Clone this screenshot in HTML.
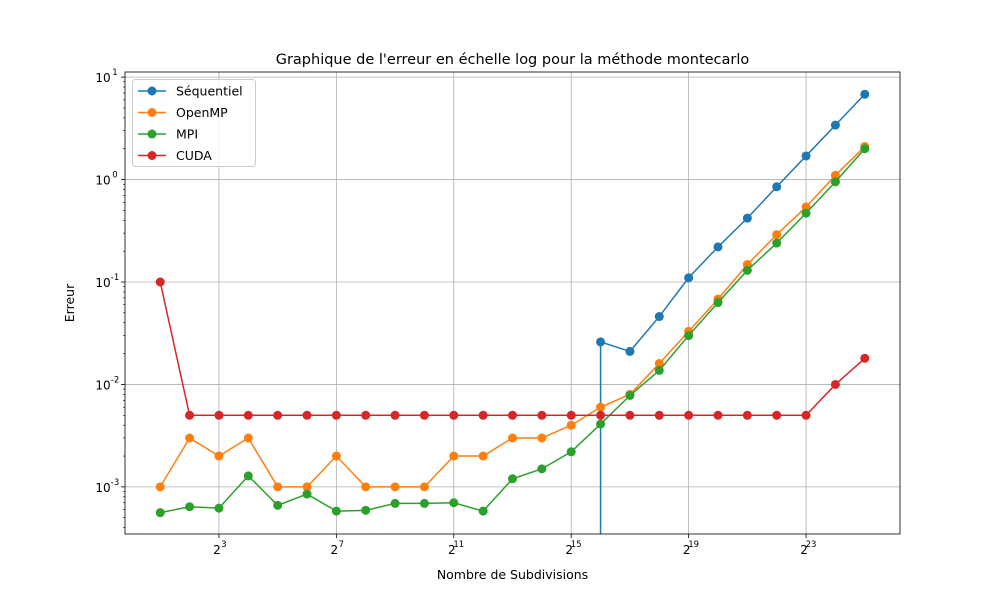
<!DOCTYPE html>
<html><head><meta charset="utf-8"><style>
body{margin:0;background:#fff;font-family:"Liberation Sans","DejaVu Sans",sans-serif}
</style></head><body>
<svg id="chart" width="1000" height="600" xmlns="http://www.w3.org/2000/svg" font-family="DejaVu Sans, Liberation Sans, sans-serif"></svg>
<script>
const exponents=[1,2,3,4,5,6,7,8,9,10,11,12,13,14,15,16,17,18,19,20,21,22,23,24,25];
const seqValues=[0,0,0,0,0,0,0,0,0,0,0,0,0,0,0,0.026,0.021,0.046,0.11,0.22,0.42,0.85,1.7,3.4,6.8];
const ompValues=[0.001,0.003,0.002,0.003,0.001,0.001,0.002,0.001,0.001,0.001,0.002,0.002,0.003,0.003,0.004,0.006,0.008,0.016,0.033,0.068,0.148,0.29,0.54,1.1,2.1];
const mpiValues=[0.00056,0.00064,0.00062,0.00128,0.00066,0.00085,0.00058,0.00059,0.00069,0.00069,0.0007,0.00058,0.0012,0.0015,0.0022,0.0041,0.0078,0.0137,0.03,0.063,0.13,0.24,0.47,0.95,2.0];
const cudaValues=[0.1,0.005,0.005,0.005,0.005,0.005,0.005,0.005,0.005,0.005,0.005,0.005,0.005,0.005,0.005,0.005,0.005,0.005,0.005,0.005,0.005,0.005,0.005,0.01,0.018];
const xTickExps=[3,7,11,15,19,23];
const yTickExps=[-3,-2,-1,0,1];
const seriesNames=["Séquentiel","OpenMP","MPI","CUDA"];
const seriesColors=["#1f77b4","#ff7f0e","#2ca02c","#d62728"];

const L=125,R=900,T=72,B=534;
const xMin=-0.2,xMax=26.2, yMin=-3.46,yMax=1.05;
const sx=e=>L+(e-xMin)/(xMax-xMin)*(R-L);
const sy=v=>B-(Math.log10(v)-yMin)/(yMax-yMin)*(B-T);
const svg=document.getElementById('chart');
const NS="http://www.w3.org/2000/svg";
function mk(tag,attrs,parent){const el=document.createElementNS(NS,tag);for(const k in attrs)el.setAttribute(k,attrs[k]);(parent||svg).appendChild(el);return el;}

const grid=mk('g',{});


xTickExps.forEach(e=>{mk('line',{x1:sx(e),x2:sx(e),y1:T,y2:B,stroke:'#b0b0b0','stroke-width':0.8},grid);});
yTickExps.forEach(e=>{const y=sy(Math.pow(10,e));mk('line',{x1:L,x2:R,y1:y,y2:y,stroke:'#b0b0b0','stroke-width':0.8},grid);});

const minor=mk('g',{});


for(let d=-4;d<=1;d++)for(let m=2;m<=9;m++){const v=m*Math.pow(10,d);const lv=Math.log10(v);if(lv<yMin||lv>yMax)continue;const y=sy(v);mk('line',{x1:L-2,x2:L,y1:y,y2:y,stroke:'#000','stroke-width':0.6},minor);}

const xt=mk('g',{});


xTickExps.forEach(e=>{const x=sx(e);mk('line',{x1:x,x2:x,y1:B,y2:B+4,stroke:'#000','stroke-width':0.8},xt);
 const t=mk('text',{x:x-2,y:B+20,'font-size':12,'text-anchor':'middle'},xt);t.textContent='2';
 const s=mk('text',{x:x+5,y:B+13,'font-size':8.5,'text-anchor':'middle'},xt);s.textContent=String(e);});
const yt=mk('g',{});


yTickExps.forEach(e=>{const y=sy(Math.pow(10,e));mk('line',{x1:L-4,x2:L,y1:y,y2:y,stroke:'#000','stroke-width':0.8},yt);
 const t=mk('text',{x:L-22,y:y+5,'font-size':12,'text-anchor':'middle'},yt);t.textContent='10';
 const s=mk('text',{x:L-10,y:y-2,'font-size':8.5,'text-anchor':'middle'},yt);s.textContent=String(e);});

const allData=[seqValues,ompValues,mpiValues,cudaValues];
const clip=mk('clipPath',{id:'pc'});mk('rect',{x:L,y:T,width:R-L,height:B-T},clip);
allData.forEach((vals,i)=>{
 const g=mk('g',{'clip-path':'url(#pc)'});
 
 
 let d='';let started=false;
 vals.forEach((v,j)=>{const x=sx(exponents[j]);
  if(v>0){const y=sy(v);
   if(!started){ if(j>0){d+='M'+x+','+(B+10)+' L'+x+','+y+' ';} else d+='M'+x+','+y+' '; started=true;}
   else d+='L'+x+','+y+' ';}
 });
 mk('path',{d:d,fill:'none',stroke:seriesColors[i],'stroke-width':1.5},g);
 vals.forEach((v,j)=>{if(v>0){const c=mk('circle',{cx:sx(exponents[j]),cy:sy(v),r:4.5,fill:seriesColors[i]},g);
  
  }});
});

const fr=mk('rect',{x:L,y:T,width:R-L,height:B-T,fill:'none',stroke:'#000','stroke-width':0.8});



const title=mk('text',{x:(L+R)/2,y:64,'font-size':14.5,'text-anchor':'middle'});title.textContent="Graphique de l'erreur en échelle log pour la méthode montecarlo";


const xl=mk('text',{x:(L+R)/2,y:579,'font-size':12.5,'text-anchor':'middle'});xl.textContent="Nombre de Subdivisions";


const yl=mk('text',{x:74,y:(T+B)/2,'font-size':12.5,'text-anchor':'middle',transform:'rotate(-90 74 '+((T+B)/2)+')'});yl.textContent="Erreur";



const lg=mk('g',{});


mk('rect',{x:132.5,y:79.5,width:123,height:87,rx:3,fill:'#fff','fill-opacity':0.8,stroke:'#ccc'},lg);
seriesNames.forEach((n,i)=>{const y=91+i*21.5;
 const e=mk('g',{},lg);
 
 
 mk('line',{x1:138,x2:166,y1:y,y2:y,stroke:seriesColors[i],'stroke-width':1.5},e);
 mk('circle',{cx:152,cy:y,r:4.5,fill:seriesColors[i]},e);
 const t=mk('text',{x:176,y:y+4.5,'font-size':12.5},e);t.textContent=n;});
</script>
</body></html>
